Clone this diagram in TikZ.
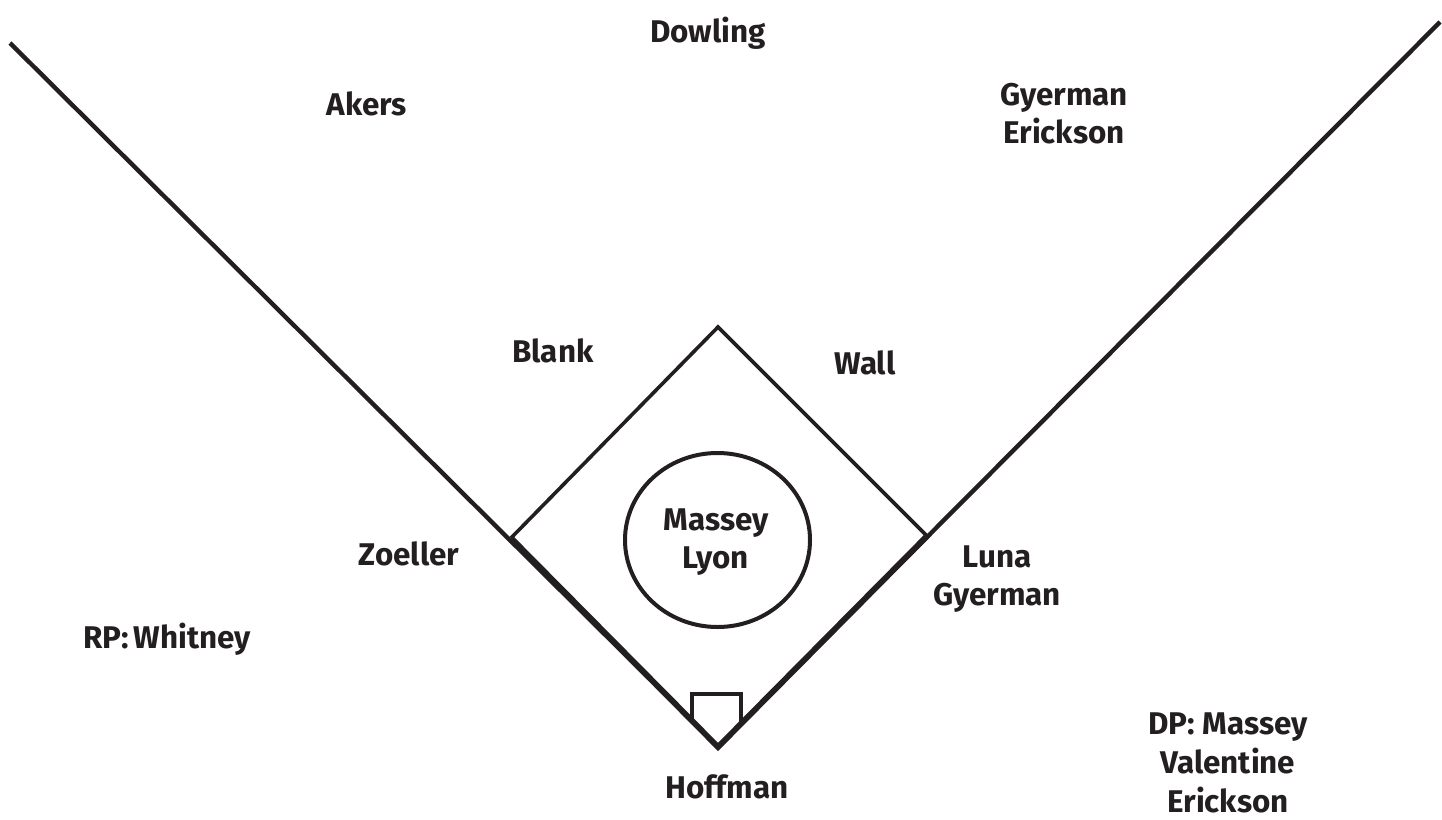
\documentclass[tikz,border=0pt]{standalone}
\usepackage{fontspec}
\setmainfont{Fira Sans}
\definecolor{ink}{RGB}{35,31,32}
\begin{document}
\begin{tikzpicture}[x=1bp,y=-1bp,
  lbl/.style={text=ink,font={\fontsize{31.5}{37.5}\selectfont\bfseries},align=center,anchor=base,inner sep=0pt},
  foul/.style={draw=ink,line width=4.4bp},
  basepath/.style={draw=ink,line width=3.6bp},
  heavy/.style={draw=ink,line width=5.8bp},
  plate/.style={draw=ink,line width=3.3bp,line join=miter}]
\useasboundingbox (0,0) rectangle (1442,819);
% field coordinates
\coordinate (H) at (718,747);
\coordinate (T) at (511,538);
\coordinate (F) at (927,536);
\coordinate (S) at (718,327);
\coordinate (L) at (10,43);
\coordinate (R) at (1440,22);
% foul lines
\draw[foul] (L) -- (H) -- (R);
% infield
\draw[basepath,line join=miter] (T) -- (S) -- (F);
\draw[heavy,line join=miter] (T) -- (H) -- (F);
% mound
\draw[draw=ink,line width=4bp] (717.5,540) ellipse [x radius=92.5,y radius=87];
% home plate
\coordinate (p1) at (692,722);
\coordinate (p2) at (692,694);
\coordinate (p3) at (741,694);
\coordinate (p4) at (741,722);
\draw[plate] (p1) -- (p2) -- (p3) -- (p4);
% labels
\node[lbl] (dowling) at (708,43) {Dowling};
\node[lbl] (akers) at (367,115) {Akers};
\node[lbl] (cf) at (1064,143) {Gyerman\\Erickson};
\node[lbl] (blank) at (553,362) {Blank};
\node[lbl] (wall) at (865,374) {Wall};
\node[lbl] (pitch) at (716,568) {Massey\\Lyon};
\node[lbl] (zoeller) at (409,565) {Zoeller};
\node[lbl] (first) at (997,605) {Luna\\Gyerman};
\node[lbl] (rp) at (167,648) {RP:\,Whitney};
\node[lbl] (hoffman) at (727,798) {Hoffman};
\node[lbl,font={\fontsize{31.5}{39}\selectfont\bfseries}] (dp) at (1228,812) {DP: Massey\\Valentine\\Erickson};
\end{tikzpicture}
\end{document}
